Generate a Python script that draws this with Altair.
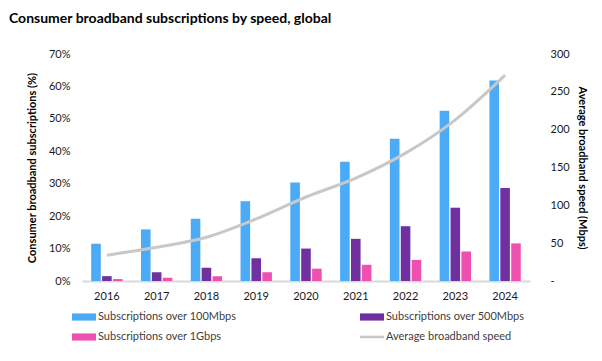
import altair as alt
import pandas as pd

years = ["2016", "2017", "2018", "2019", "2020", "2021", "2022", "2023", "2024"]
over_100m = [11.5, 15.9, 19.2, 24.6, 30.4, 36.8, 43.9, 52.5, 61.8]
over_500m = [1.5, 2.7, 4.1, 7.0, 10.0, 13.0, 16.9, 22.6, 28.7]
over_1g = [0.6, 1.0, 1.5, 2.7, 3.8, 5.0, 6.5, 9.1, 11.6]
avg_speed = [34, 44.5, 57.8, 82, 111, 136, 169, 213, 272]

bar_series = ["Subscriptions over 100Mbps", "Subscriptions over 500Mbps", "Subscriptions over 1Gbps"]
line_series = "Average broadband speed"
all_series = bar_series + [line_series]
colors = ["#4BABF6", "#7030A0", "#EE50B0", "#C8C8C8"]

rows = []
for s, vals in zip(bar_series, [over_100m, over_500m, over_1g]):
    for y, v in zip(years, vals):
        rows.append({"year": y, "series": s, "value": v / 100})
bar_df = pd.DataFrame(rows)
line_df = pd.DataFrame({"year": years, "speed": avg_speed, "series": [line_series] * len(years)})

color_scale = alt.Scale(domain=all_series, range=colors)

shape_expr = ("datum.value === 'Average broadband speed' ? "
              "'M-2,-0.22H2V0.22H-2Z' : 'M-2,-0.6H2V0.6H-2Z'")

bars = alt.Chart(bar_df).mark_bar().encode(
    x=alt.X("year:N", sort=years,
            scale=alt.Scale(paddingInner=0.37, paddingOuter=0.185),
            axis=alt.Axis(title=None, labelAngle=0, ticks=False, domainColor="#D9D9D9",
                          domainWidth=2, labelPadding=9, labelFontSize=11, labelColor="#1a1a1a")),
    xOffset=alt.XOffset("series:N", sort=bar_series, scale=alt.Scale(paddingInner=0.12, paddingOuter=0)),
    y=alt.Y("value:Q", scale=alt.Scale(domain=[0, 0.7], nice=False),
            axis=alt.Axis(format=".0%", values=[0, 0.1, 0.2, 0.3, 0.4, 0.5, 0.6, 0.7], grid=False,
                          domain=False, ticks=False, title="Consumer broadband subscriptions (%)",
                          titleFontWeight="bold", titleFontSize=11, labelFontSize=11,
                          labelColor="#1a1a1a", labelPadding=12, titlePadding=11)),
    color=alt.Color("series:N", scale=color_scale,
                    legend=alt.Legend(title=None, orient="none", legendX=-4, legendY=257,
                                      direction="horizontal", columns=2,
                                      symbolType=alt.ExprRef(expr=shape_expr), symbolSize=144,
                                      symbolStrokeWidth=0, labelOffset=8,
                                      columnPadding=123, rowPadding=9,
                                      labelFontSize=11, labelColor="#404040", labelLimit=300)),
)

line = alt.Chart(line_df).mark_line(strokeWidth=3, interpolate="monotone").encode(
    x=alt.X("year:N", sort=years),
    y=alt.Y("speed:Q", scale=alt.Scale(domain=[0, 300], nice=False),
            axis=alt.Axis(orient="right", values=[0, 50, 100, 150, 200, 250, 300], grid=False,
                          domain=False, ticks=False,
                          labelExpr="datum.value == 0 ? '-' : datum.label",
                          title="Average broadband speed (Mbps)", titleFontWeight="bold",
                          titleFontSize=11, labelFontSize=11, labelColor="#1a1a1a",
                          labelPadding=20, titlePadding=7)),
    color=alt.Color("series:N", scale=color_scale),
)

chart = alt.layer(bars, line).resolve_scale(y="independent").properties(
    width=448, height=227,
    autosize=alt.AutoSizeParams(type="none"),
    padding={"left": 74, "top": 46, "right": 64, "bottom": 72},
    title=alt.TitleParams("Consumer broadband subscriptions by speed, global", anchor="start",
                          frame="group", fontSize=14, font="Lato", fontWeight="bold",
                          dx=-73, dy=-18, color="#000000"),
).configure(font="Lato").configure_view(stroke=None)

chart.save("out.html", embed_options={"renderer": "svg", "actions": False})
